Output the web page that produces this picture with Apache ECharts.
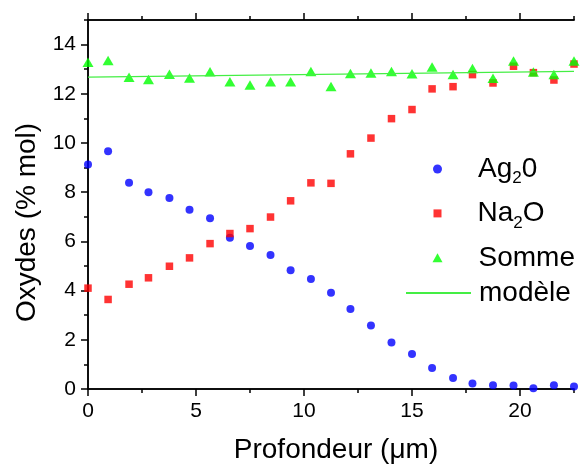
<!DOCTYPE html>
<html>
  <head>
    <meta charset="utf-8" />
    <title>Oxydes</title>
    <script src="https://cdn.jsdelivr.net/npm/echarts@6/dist/echarts.min.js"></script>
  </head>
  <body style="margin:0">
    <div id="container" style="width: 583px;height: 466px;"></div>

    <script type="text/javascript">
    // profondeur (um) des points de mesure
    var profondeur = [0, 0.93, 1.9, 2.8, 3.77, 4.7, 5.65, 6.57, 7.5, 8.45, 9.38, 10.32, 11.25,
                      12.15, 13.1, 14.05, 15.0, 15.93, 16.9, 17.8, 18.75, 19.7, 20.62, 21.57, 22.5];
    var ag2o = [9.13, 9.66, 8.38, 8.0, 7.76, 7.29, 6.94, 6.15, 5.81, 5.45, 4.83, 4.47, 3.91,
                3.25, 2.58, 1.89, 1.42, 0.85, 0.45, 0.22, 0.15, 0.14, 0.03, 0.15, 0.1];
    var na2o = [4.1, 3.64, 4.26, 4.52, 4.99, 5.33, 5.91, 6.32, 6.52, 6.99, 7.65, 8.38, 8.36,
                9.56, 10.2, 10.99, 11.36, 12.2, 12.29, 12.78, 12.44, 13.12, 12.86, 12.56, 13.21];
    var somme = [13.28, 13.35, 12.67, 12.58, 12.79, 12.64, 12.9, 12.49, 12.36, 12.49, 12.49, 12.91, 12.3,
                 12.83, 12.85, 12.91, 12.82, 13.09, 12.78, 13.03, 12.63, 13.33, 12.89, 12.78, 13.33];
    var modeleX = [0, 22.5];
    var modeleY = [12.68, 12.91];

    var xMajor = [0, 5, 10, 15, 20];
    var xMinor = [2.5, 7.5, 12.5, 17.5, 22.5];
    var yMajor = [0, 2, 4, 6, 8, 10, 12, 14];
    var yMinor = [1, 3, 5, 7, 9, 11, 13, 15];

    function paires(xs, ys) {
        return xs.map(function (x, i) { return [x, ys[i]]; });
    }

    var font = 'Liberation Sans, Arial, sans-serif';
    var axeLigne = { show: true, lineStyle: { color: '#000', width: 1.5 } };

    // un axe pour les graduations longues, un autre pour les courtes
    function axeX(position, valeurs, longueur, labels) {
        return {
            type: 'value', position: position, min: 0, max: 22.5,
            axisLine: axeLigne,
            splitLine: { show: false },
            axisTick: { show: true, length: longueur, customValues: valeurs,
                        lineStyle: { color: '#000', width: 1.5 } },
            axisLabel: labels ? { show: true, customValues: xMajor, color: '#000',
                                  fontSize: 21, fontFamily: font, margin: 12 } : { show: false }
        };
    }
    function axeY(valeurs, longueur, labels) {
        return {
            type: 'value', position: 'left', min: 0, max: 15,
            axisLine: axeLigne,
            splitLine: { show: false },
            axisTick: { show: true, length: longueur, customValues: valeurs,
                        lineStyle: { color: '#000', width: 1.5 } },
            axisLabel: labels ? { show: true, customValues: yMajor, color: '#000',
                                  fontSize: 21, fontFamily: font, margin: 12 } : { show: false }
        };
    }

    var xAxes = [axeX('bottom', xMajor, 7, true), axeX('bottom', xMinor, 4, false),
                 axeX('top', xMajor, 7, false), axeX('top', xMinor, 4, false)];
    xAxes[0].name = 'Profondeur (\u03bcm)';
    xAxes[0].nameLocation = 'middle';
    xAxes[0].nameGap = 47;
    xAxes[0].nameTextStyle = { fontSize: 28, fontFamily: font, color: '#000', padding: [0, 0, 0, 10] };

    var yAxes = [axeY(yMajor, 7, true), axeY(yMinor, 4, false)];
    yAxes[0].name = 'Oxydes (% mol)';
    yAxes[0].nameLocation = 'middle';
    yAxes[0].nameGap = 47;
    yAxes[0].nameTextStyle = { fontSize: 28, fontFamily: font, color: '#000', padding: [0, 36, 0, 0] };

    // une légende par entrée pour garder les symboles à leur taille
    function legende(nom, icone, top, left, w, h, decalage) {
        var item = { name: nom };
        if (icone) item.icon = icone;
        else item.itemStyle = { color: 'rgba(0,0,0,0)', borderWidth: 0 };
        return {
            orient: 'vertical', left: left, top: top, padding: 0,
            itemWidth: w, itemHeight: h,
            data: [item],
            formatter: function (n) {
                if (n === 'Ag2O') return 'Ag{sub|2}0';
                if (n === 'Na2O') return 'Na{sub|2}O';
                return n;
            },
            textStyle: {
                fontSize: 28, fontFamily: font, color: '#000', lineHeight: 36,
                padding: [0, 0, 0, decalage],
                rich: { sub: { fontSize: 17, lineHeight: 16, verticalAlign: 'bottom',
                               fontFamily: font, color: '#000' } }
            }
        };
    }

    var myChart = echarts.init(document.getElementById('container'));
    var option = {
        animation: false,
        backgroundColor: '#fff',
        grid: { left: 88, right: 9, top: 20, bottom: 77, outerBoundsMode: 'none' },
        xAxis: xAxes,
        yAxis: yAxes,
        legend: [
            legende('Ag2O', 'circle', 151, 433, 9, 9, 31),
            legende('Na2O', 'rect', 195.4, 433.5, 8, 8, 31),
            legende('Somme', 'triangle', 239.8, 432.5, 10, 9, 31),
            legende('modèle', null, 275, 405, 65, 9, 3)
        ],
        series: [
            {
                name: 'Ag2O', type: 'scatter', symbol: 'circle', symbolSize: 8,
                data: paires(profondeur, ag2o),
                itemStyle: { color: '#0000ff' }
            },
            {
                name: 'Na2O', type: 'scatter', symbol: 'rect', symbolSize: 7.5,
                data: paires(profondeur, na2o),
                itemStyle: { color: '#ff0000' }
            },
            {
                name: 'modèle', type: 'line', symbol: 'none',
                data: paires(modeleX, modeleY),
                lineStyle: { color: '#44ee44', width: 1.2 },
                itemStyle: { color: '#44ee44' }
            },
            {
                name: 'Somme', type: 'scatter', symbol: 'triangle', symbolSize: [11, 9.5],
                data: paires(profondeur, somme),
                itemStyle: { color: '#00ff00' }
            }
        ]
    };
    myChart.setOption(option);

    window.addEventListener('resize', myChart.resize);
    </script>
  </body>
</html>
